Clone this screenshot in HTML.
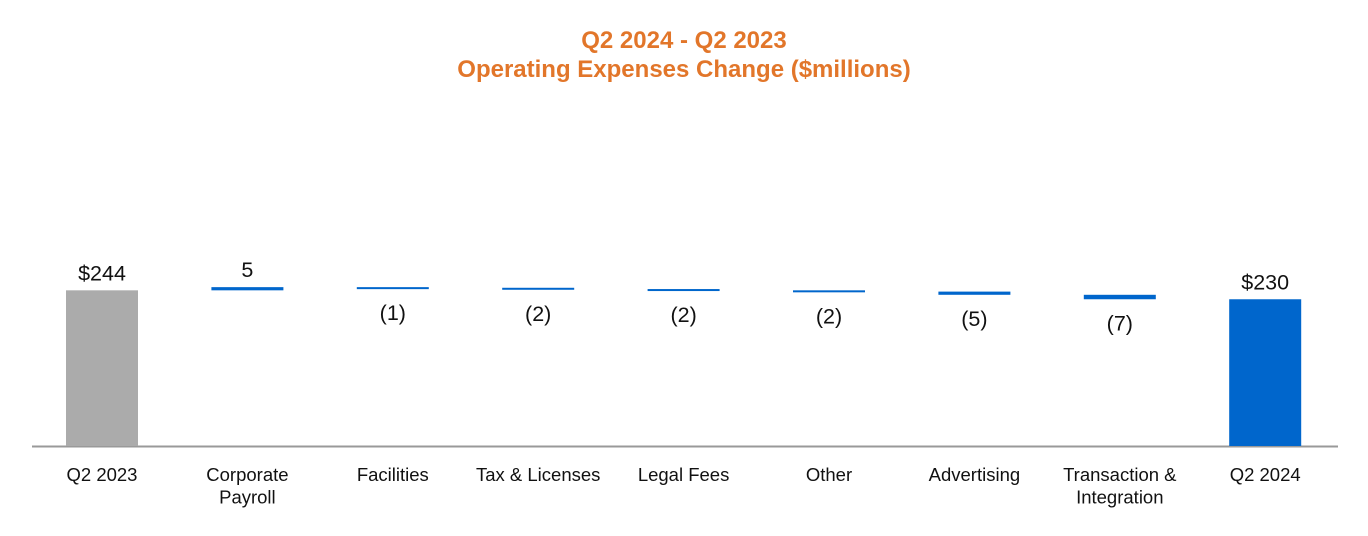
<!DOCTYPE html>
<html><head><meta charset="utf-8"><style>
body{margin:0;background:#fff;}
svg{display:block;font-family:"Liberation Sans",sans-serif;}
</style></head><body>
<svg id="chart" width="1368" height="536" viewBox="0 0 1368 536">
<text x="684" y="48" text-anchor="middle" font-size="24" font-weight="bold" fill="#E2762A">Q2 2024 - Q2 2023</text>
<text x="684" y="77" text-anchor="middle" font-size="24" font-weight="bold" fill="#E2762A">Operating Expenses Change ($millions)</text>
<line x1="32" y1="446.5" x2="1338" y2="446.5" stroke="#999" stroke-width="2"/>
<g id="marks"></g>
</svg>
<script>
const categories = [["Q2 2023"],["Corporate","Payroll"],["Facilities"],["Tax & Licenses"],["Legal Fees"],["Other"],["Advertising"],["Transaction &","Integration"],["Q2 2024"]];
const startValue = 244;
const deltas = [5,-1,-2,-2,-2,-5,-7];
const valueLabels = ["$244","5","(1)","(2)","(2)","(2)","(5)","(7)","$230"];

const NS="http://www.w3.org/2000/svg";
const g=document.getElementById('marks');
const baseY=446, scale=0.638, x0=102, step=145.4, bw=72;
const y=v=>baseY-v*scale;
const xc=i=>x0+i*step;
function mk(tag,attrs){const e=document.createElementNS(NS,tag);for(const k in attrs)e.setAttribute(k,attrs[k]);g.appendChild(e);return e;}
let cum=startValue;
const n=categories.length;
for(let i=0;i<n;i++){
  let top,bot,fill,above=true;
  if(i===0){top=y(startValue);bot=baseY;fill="#ABABAB";}
  else if(i===n-1){top=y(cum);bot=baseY;fill="#0066CC";}
  else{
    const d=deltas[i-1];const nv=cum+d;
    top=y(Math.max(cum,nv));bot=y(Math.min(cum,nv));
    if(bot-top<2){bot=top+2;}
    fill="#0066CC";above=d>=0;cum=nv;
  }
  const r=mk('rect',{x:xc(i)-bw/2,y:top,width:bw,height:bot-top,fill:fill});
  
  
  const t=mk('text',{x:xc(i),y:above?top-10:bot+31,'text-anchor':'middle','font-size':21.5,fill:'#111'});
  t.textContent=valueLabels[i];
  
  
  categories[i].forEach((line,j)=>{
    const c=mk('text',{x:xc(i),y:481+j*22.5,'text-anchor':'middle','font-size':18.5,fill:'#111'});
    c.textContent=line;
    
    
  });
}
</script>
</body></html>
